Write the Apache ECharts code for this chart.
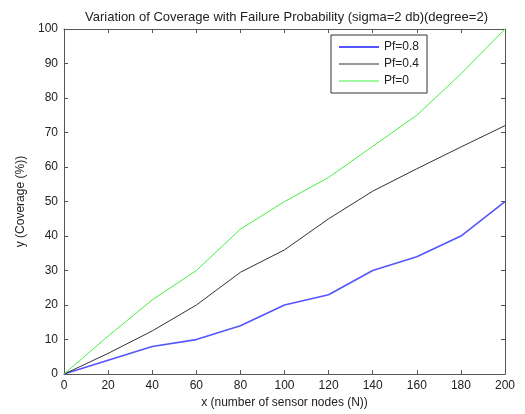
<!DOCTYPE html>
<html>
<head>
<meta charset="utf-8">
<script src="https://cdn.jsdelivr.net/npm/echarts@6/dist/echarts.min.js"></script>
<style>
  html, body { margin: 0; padding: 0; background: #fff; }
</style>
</head>
<body>
<div id="myChart" style="width:525px;height:414px;"></div>
<script>
// data
var nodes = [0, 20, 40, 60, 80, 100, 120, 140, 160, 180, 200];
var pf08 = [0, 4, 8, 10, 14, 20, 23, 30, 34, 40, 50];
var pf04 = [0, 6, 12.5, 20, 29.5, 36, 45, 53, 59.5, 65.8, 72];
var pf0 = [0, 11, 21.5, 30, 42, 50, 57, 66, 75, 87, 100];

function pairs(ys) {
  var out = [];
  for (var i = 0; i < nodes.length; i++) {
    out.push([nodes[i], ys[i]]);
  }
  return out;
}

var font = 'Liberation Sans';
var axisCol = '#555';
var blue = '#5555ff', black = '#333333', green = '#44ee44';

var myChart = echarts.init(document.getElementById('myChart'));
myChart.setOption({
  animation: false,
  textStyle: { fontFamily: font },
  title: {
    text: 'Variation of Coverage with Failure Probability (sigma=2 db)(degree=2)',
    left: 80,
    top: 6,
    textStyle: { fontSize: 13, fontWeight: 'normal', color: '#222', fontFamily: font }
  },
  grid: { left: 64, right: 20, top: 29, bottom: 37 },
  legend: {
    orient: 'vertical',
    left: 331,
    top: 35,
    padding: [6, 8, 6, 8],
    itemGap: 5,
    itemWidth: 40,
    itemHeight: 13,
    borderColor: '#333',
    borderWidth: 1,
    backgroundColor: '#fff',
    textStyle: { fontSize: 12, color: '#222', fontFamily: font },
    data: [
      { name: 'Pf=0.8', icon: 'path://M0,0h40v2h-40z', itemStyle: { color: blue } },
      { name: 'Pf=0.4', icon: 'path://M0,0h40v1h-40z', itemStyle: { color: black } },
      { name: 'Pf=0', icon: 'path://M0,0h40v1h-40z', itemStyle: { color: green } }
    ]
  },
  xAxis: [{
    type: 'value',
    min: 0,
    max: 200,
    interval: 20,
    name: 'x (number of sensor nodes (N))',
    nameLocation: 'middle',
    nameGap: 19,
    nameTextStyle: { fontSize: 12, color: '#222' },
    axisLine: { onZero: false, lineStyle: { color: axisCol } },
    axisTick: { inside: true, length: 4, lineStyle: { color: axisCol } },
    axisLabel: { fontSize: 12, color: '#222', margin: 6 },
    splitLine: { show: false }
  }, {
    type: 'value',
    position: 'top',
    min: 0,
    max: 200,
    interval: 20,
    axisLine: { show: true, onZero: false, lineStyle: { color: axisCol } },
    axisTick: { inside: true, length: 4, lineStyle: { color: axisCol } },
    axisLabel: { show: false },
    splitLine: { show: false }
  }],
  yAxis: [{
    type: 'value',
    min: 0,
    max: 100,
    interval: 10,
    name: 'y (Coverage (%))',
    nameLocation: 'middle',
    nameGap: 36,
    nameTextStyle: { fontSize: 12, color: '#222' },
    axisLine: { show: true, onZero: false, lineStyle: { color: axisCol } },
    axisTick: { show: true, inside: true, length: 4, lineStyle: { color: axisCol } },
    axisLabel: { fontSize: 12, color: '#222', margin: 6 },
    splitLine: { show: false }
  }, {
    type: 'value',
    position: 'right',
    min: 0,
    max: 100,
    interval: 10,
    axisLine: { show: true, onZero: false, lineStyle: { color: axisCol } },
    axisTick: { show: true, inside: true, length: 4, lineStyle: { color: axisCol } },
    axisLabel: { show: false },
    splitLine: { show: false }
  }],
  series: [{
    name: 'Pf=0.8',
    type: 'line',
    symbol: 'none',
    data: pairs(pf08),
    lineStyle: { color: blue, width: 1.6 },
    itemStyle: { color: blue }
  }, {
    name: 'Pf=0.4',
    type: 'line',
    symbol: 'none',
    data: pairs(pf04),
    lineStyle: { color: black, width: 1 },
    itemStyle: { color: black }
  }, {
    name: 'Pf=0',
    type: 'line',
    symbol: 'none',
    data: pairs(pf0),
    lineStyle: { color: green, width: 1 },
    itemStyle: { color: green }
  }]
});
</script>
</body>
</html>
